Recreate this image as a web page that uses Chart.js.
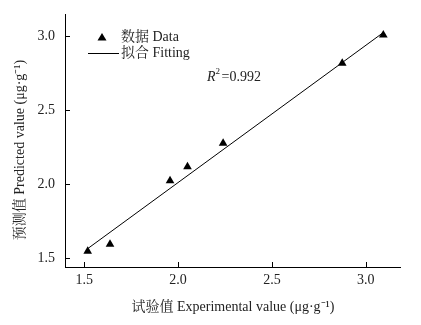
<!DOCTYPE html>
<html><head><meta charset="utf-8">
<script src="https://cdn.jsdelivr.net/npm/chart.js@4/dist/chart.umd.min.js"></script>
<style>html,body{margin:0;padding:0;background:#fff}#c{display:block}</style>
</head><body>
<canvas id="c" width="421" height="325"></canvas>
<script>
const experimental = [1.518, 1.637, 1.957, 2.050, 2.240, 2.875, 3.094];
const predicted    = [1.545, 1.593, 2.022, 2.117, 2.275, 2.816, 3.007];
const fitX = [1.52, 3.09];
const fitY = [1.565, 3.02];
const xTicks = [1.5, 2.0, 2.5, 3.0];
const yTicks = [1.5, 2.0, 2.5, 3.0];
const legendLabels = ['数据 Data', '拟合 Fitting'];
const r2Text = '=0.992';
const xTitle = '试验值 Experimental value (μg·g⁻¹)';
const yTitle = '预测值 Predicted value (μg·g⁻¹)';

const SERIF = '"Liberation Serif", "Noto Serif CJK SC", "Noto Sans CJK SC", serif';

const decor = {
  id: 'decor',
  afterDraw(chart) {
    const ctx = chart.ctx;
    const xs = chart.scales.x, ys = chart.scales.y;
    const ca = chart.chartArea;
    ctx.save();
    ctx.strokeStyle = '#000';
    ctx.lineWidth = 1;
    // inward ticks
    ctx.beginPath();
    xTicks.forEach(v => { const px = Math.round(xs.getPixelForValue(v)) + 0.5; ctx.moveTo(px, ca.bottom); ctx.lineTo(px, ca.bottom - 5); });
    yTicks.forEach(v => { const py = Math.round(ys.getPixelForValue(v)) + 0.5; ctx.moveTo(ca.left, py); ctx.lineTo(ca.left + 5, py); });
    ctx.stroke();
    // legend
    ctx.fillStyle = '#000';
    const lx = 102, ly1 = 37, ly2 = 53;
    ctx.beginPath();
    ctx.moveTo(lx, ly1 - 4); ctx.lineTo(lx + 4.5, ly1 + 3.5); ctx.lineTo(lx - 4.5, ly1 + 3.5); ctx.closePath(); ctx.fill();
    ctx.beginPath(); ctx.moveTo(88, ly2 + 0.5); ctx.lineTo(119, ly2 + 0.5); ctx.stroke();
    ctx.fillStyle = '#222';
    ctx.font = '14px ' + SERIF;
    ctx.textBaseline = 'middle';
    ctx.textAlign = 'left';
    ctx.fillText(legendLabels[0], 121, ly1);
    ctx.fillText(legendLabels[1], 121, ly2);
    // R^2
    ctx.font = 'italic 14px ' + SERIF;
    ctx.fillText('R', 207, 77);
    const rw = ctx.measureText('R').width;
    ctx.font = '9px ' + SERIF;
    ctx.fillText('2', 207 + rw, 72);
    ctx.font = '14px ' + SERIF;
    ctx.fillText(r2Text, 207 + rw + 6, 77);
    // axis titles
    ctx.textAlign = 'center';
    ctx.font = '14px ' + SERIF;
    ctx.fillText(xTitle, 233, 307);
    ctx.translate(20, 150);
    ctx.rotate(-Math.PI / 2);
    ctx.fillText(yTitle, 0, 0);
    ctx.restore();
  }
};

new Chart(document.getElementById('c'), {
  type: 'scatter',
  data: {
    datasets: [
      {
        label: legendLabels[0],
        data: experimental.map((x, i) => ({x, y: predicted[i]})),
        pointStyle: 'triangle',
        pointRadius: 5,
        backgroundColor: '#000',
        borderColor: '#000',
        borderWidth: 0
      },
      {
        type: 'line',
        label: legendLabels[1],
        data: fitX.map((x, i) => ({x, y: fitY[i]})),
        borderColor: '#000',
        borderWidth: 1,
        pointRadius: 0,
        fill: false
      }
    ]
  },
  options: {
    responsive: false,
    animation: false,
    devicePixelRatio: 1,
    layout: { padding: { top: 14, right: 21, left: 0, bottom: 0 } },
    plugins: { legend: { display: false }, tooltip: { enabled: false } },
    scales: {
      x: {
        type: 'linear',
        min: 1.397, max: 3.183,
        afterBuildTicks: s => { s.ticks = xTicks.map(v => ({value: v})); },
        afterFit: s => { s.height = 58; s.paddingLeft = 0; s.paddingRight = 0; },
        grid: { display: false, drawTicks: false },
        border: { display: true, color: '#000', width: 1 },
        ticks: { padding: 5, color: '#222', font: { family: SERIF, size: 14 }, callback: v => Number(v).toFixed(1), maxRotation: 0 }
      },
      y: {
        type: 'linear',
        min: 1.439, max: 3.149,
        afterBuildTicks: s => { s.ticks = yTicks.map(v => ({value: v})); },
        afterFit: s => { s.width = 65; s.paddingTop = 0; s.paddingBottom = 0; },
        grid: { display: false, drawTicks: false },
        border: { display: true, color: '#000', width: 1 },
        ticks: { padding: 10, color: '#222', font: { family: SERIF, size: 14 }, callback: v => Number(v).toFixed(1) }
      }
    }
  },
  plugins: [decor]
});
</script>
</body></html>
